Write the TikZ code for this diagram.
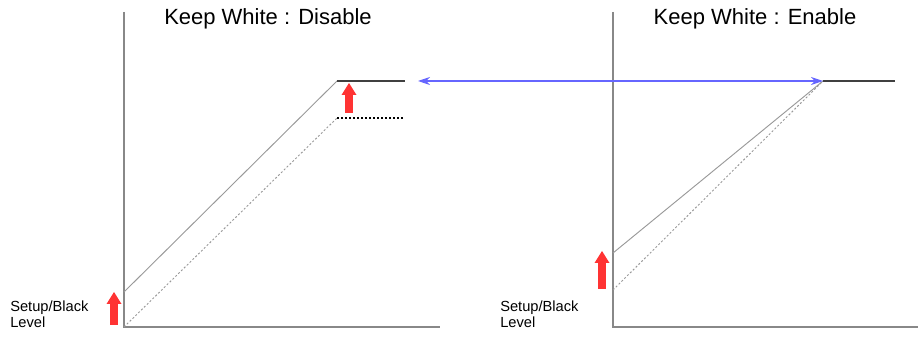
\documentclass[tikz,border=0pt]{standalone}
\usepackage{fontspec}
\setmainfont{Liberation Sans}
\usetikzlibrary{arrows.meta}
\definecolor{axisgray}{HTML}{888888}
\definecolor{linegray}{HTML}{999999}
\definecolor{redarrow}{HTML}{FF3333}
\definecolor{bluearrow}{HTML}{6666FF}
\tikzset{
  axis/.style={draw=axisgray, line width=1pt},
  curve/.style={draw=linegray, line width=0.7pt},
  dotcurve/.style={draw=linegray, line width=0.7pt, dash pattern=on 1.5pt off 1.5pt},
  level/.style={draw=black!75, line width=1.2pt},
  dotlevel/.style={draw=black, line width=0.8pt, dash pattern=on 1.5pt off 1.5pt},
  title/.style={font=\fontsize{16.5}{18}\selectfont, anchor=center},
  lab/.style={font=\fontsize{11}{12}\selectfont, align=left, anchor=north west, inner sep=0pt},
  pt/.style={inner sep=0pt, minimum size=0pt},
}
\newcommand{\redup}[3]{% x, ybottom, ytop
  \fill[redarrow] (#1-3.8,#2) -- (#1+3.8,#2) -- (#1+3.8,#3+12) -- (#1+7.5,#3+12) -- (#1,#3) -- (#1-7.5,#3+12) -- (#1-3.8,#3+12) -- cycle;}
\begin{document}
\begin{tikzpicture}[x=0.75pt,y=-0.75pt]
\useasboundingbox (0,0) rectangle (921,338);
% left chart
\coordinate (LT) at (124,12);
\coordinate (LO) at (124,327);
\coordinate (LX) at (440,327);
\coordinate (LS0) at (124,292);
\coordinate (LS1) at (337,81);
\coordinate (LS2) at (405,81);
\coordinate (LD1) at (337,118);
\coordinate (LD2) at (405,118);
\draw[axis] (LT) -- (LO) -- (LX);
\draw[curve] (LS0) -- (LS1);
\draw[level] (LS1) -- (LS2);
\draw[dotcurve] (LO) -- (LD1);
\draw[dotlevel] (LD1) -- (LD2);
\node[title] (t1) at (268,19) {Keep White : Disable};
\node[lab] (l1) at (10,301) {Setup/Black\\Level};
\redup{349}{113}{83}
\redup{114}{325}{292}
% right chart
\coordinate (RT) at (613,12);
\coordinate (RO) at (613,327);
\coordinate (RX) at (918,327);
\coordinate (RS0) at (613,253);
\coordinate (RS1) at (823,81);
\coordinate (RS2) at (895,81);
\coordinate (RD0) at (613,290);
\draw[axis] (RT) -- (RO) -- (RX);
\draw[curve] (RS0) -- (RS1);
\draw[dotcurve] (RD0) -- (RS1);
\draw[level] (RS1) -- (RS2);
\node[title] (t2) at (755,19) {Keep White : Enable};
\node[lab] (l2) at (500,301) {Setup/Black\\Level};
\redup{602}{289}{251}
% blue arrow
\coordinate (BA) at (418,81);
\draw[bluearrow, line width=0.8pt, {Stealth[length=9pt,width=6pt]}-{Stealth[length=9pt,width=6pt]}] (BA) -- (RS1);
\end{tikzpicture}
\end{document}
